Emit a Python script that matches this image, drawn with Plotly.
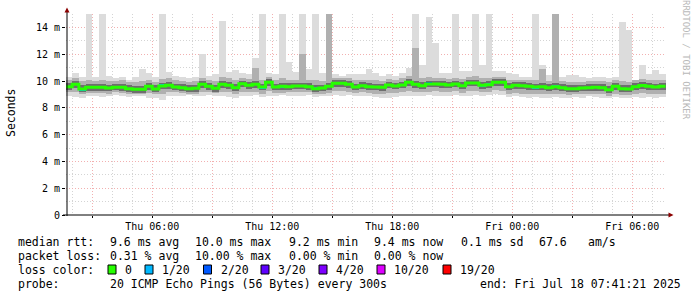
import plotly.graph_objects as go
import pandas as pd

# ---------------- data (20-minute steps, values in ms) ----------------
step_start = pd.date_range("2025-07-17 01:40:00", periods=90, freq="20min")

median_ms = [9.58, 9.75, 9.40, 9.53, 9.53, 9.53, 9.48, 9.53, 9.53, 9.43,
             9.38, 9.38, 9.60, 9.40, 9.63, 9.68, 9.55, 9.50, 9.43, 9.45,
             9.75, 9.60, 9.45, 9.75, 9.68, 9.50, 9.80, 9.68, 9.75, 9.55,
             9.90, 9.55, 9.60, 9.58, 9.63, 9.63, 9.58, 9.43, 9.48, 9.60,
             9.83, 9.83, 9.75, 9.55, 9.65, 9.58, 9.55, 9.53, 9.70, 9.63,
             9.70, 9.90, 9.75, 9.65, 9.78, 9.78, 9.75, 9.70, 9.78, 9.65,
             9.85, 9.85, 9.68, 9.72, 9.90, 9.90, 9.58, 9.68, 9.65, 9.60,
             9.55, 9.58, 9.50, 9.58, 9.50, 9.42, 9.43, 9.47, 9.50, 9.53,
             9.50, 9.35, 9.60, 9.43, 9.40, 9.58, 9.66, 9.60, 9.55, 9.60]

loss_count = [0, 0, 1, 0, 0, 0, 0, 0, 0, 0,
              0, 0, 0, 0, 1, 0, 0, 0, 0, 0,
              0, 0, 0, 0, 0, 0, 0, 0, 0, 1,
              0, 0, 1, 0, 0, 0, 0, 1, 0, 0,
              0, 0, 0, 0, 0, 0, 0, 0, 0, 0,
              0, 0, 0, 0, 2, 0, 0, 0, 0, 0,
              0, 1, 1, 1, 0, 0, 0, 0, 0, 0,
              1, 0, 0, 1, 0, 0, 0, 0, 0, 0,
              0, 0, 0, 0, 0, 0, 0, 0, 0, 0]

ping_max = [10.30, 10.57, 10.30, 15.0, 10.30, 15.0, 10.40, 10.20, 10.30, 10.10,
            10.30, 10.87, 10.57, 10.30, 15.0, 10.70, 10.40, 10.30, 10.20, 10.30,
            12.00, 10.40, 10.50, 14.5, 10.70, 10.80, 10.60, 10.50, 11.70, 15.0,
            10.60, 10.50, 15.0, 11.40, 10.70, 15.0, 10.90, 15.0, 10.60, 15.0,
            10.50, 10.40, 10.50, 10.55, 10.55, 10.90, 10.60, 10.40, 10.50, 10.40,
            10.60, 11.00, 15.0, 11.20, 14.8, 12.80, 10.60, 10.60, 15.0, 10.75,
            10.75, 15.0, 11.20, 15.0, 10.75, 10.75, 10.60, 10.50, 10.30, 10.30,
            15.0, 11.20, 10.45, 15.0, 10.30, 10.45, 10.45, 10.30, 10.20, 10.30,
            10.30, 10.20, 10.30, 14.4, 13.80, 10.10, 11.20, 10.50, 10.80, 10.50]

ping_min = [8.85, 8.80, 8.75, 8.85, 8.90, 8.80, 8.85, 8.95, 8.90, 8.80,
            8.90, 8.85, 8.70, 8.75, 8.60, 8.85, 8.90, 8.90, 8.95, 8.85,
            8.90, 8.95, 8.90, 8.85, 8.80, 8.75, 8.85, 8.90, 8.95, 8.80,
            8.90, 8.85, 8.95, 8.90, 8.85, 8.90, 8.95, 8.80, 8.85, 8.90,
            8.95, 8.90, 8.95, 8.90, 8.85, 8.90, 8.80, 8.75, 8.75, 8.80,
            8.85, 8.90, 8.85, 8.90, 8.95, 8.90, 8.85, 8.90, 8.95, 8.85,
            8.90, 8.95, 8.90, 8.95, 9.00, 8.95, 8.80, 8.85, 8.80, 8.75,
            8.80, 8.70, 8.75, 8.80, 8.70, 8.75, 8.80, 8.75, 8.85, 8.80,
            8.75, 8.70, 8.80, 8.75, 8.70, 8.80, 8.75, 8.80, 8.70, 8.80]

mid_hi = [10.05, 10.20, 10.00, 10.10, 10.00, 10.10, 10.00, 10.00, 10.05, 9.95,
          9.95, 10.00, 10.10, 9.95, 10.15, 10.20, 10.05, 10.00, 9.95, 10.00,
          10.25, 10.10, 10.00, 10.30, 10.20, 10.10, 10.25, 10.15, 11.00, 10.10,
          10.30, 10.05, 10.20, 10.10, 10.10, 12.00, 10.10, 10.05, 10.00, 15.0,
          10.25, 10.20, 10.20, 10.05, 10.10, 10.10, 10.05, 10.00, 10.15, 10.10,
          10.20, 10.35, 12.50, 10.20, 10.30, 10.25, 10.20, 10.15, 10.25, 10.15,
          10.30, 10.35, 10.20, 10.25, 10.30, 10.30, 10.05, 10.10, 10.10, 10.05,
          10.10, 10.90, 10.00, 15.0, 10.00, 9.95, 9.95, 9.95, 10.00, 10.00,
          10.00, 9.90, 10.05, 10.00, 9.95, 10.05, 10.15, 10.05, 10.05, 10.10]

mid_lo = [9.15, 9.20, 9.00, 9.10, 9.10, 9.10, 9.05, 9.15, 9.10, 9.05,
          9.00, 9.00, 9.10, 9.00, 9.05, 9.15, 9.15, 9.10, 9.05, 9.05,
          9.20, 9.15, 9.10, 9.20, 9.15, 9.05, 9.20, 9.15, 9.20, 9.05,
          9.25, 9.10, 9.10, 9.15, 9.15, 9.15, 9.15, 9.05, 9.05, 9.10,
          9.25, 9.25, 9.20, 9.10, 9.15, 9.10, 9.05, 9.00, 9.10, 9.10,
          9.15, 9.25, 9.20, 9.15, 9.20, 9.25, 9.20, 9.15, 9.25, 9.10,
          9.25, 9.25, 9.15, 9.20, 9.30, 9.25, 9.05, 9.10, 9.05, 9.05,
          9.00, 9.00, 9.00, 9.05, 9.00, 8.95, 9.00, 9.00, 9.05, 9.05,
          9.00, 8.90, 9.05, 8.95, 8.95, 9.05, 9.10, 9.05, 9.00, 9.05]

dark_hi = [9.82, 10.00, 9.68, 9.80, 9.78, 9.80, 9.72, 9.78, 9.80, 9.68,
           9.65, 9.65, 9.85, 9.68, 9.88, 9.92, 9.80, 9.75, 9.70, 9.72,
           9.98, 9.85, 9.72, 10.00, 9.92, 9.78, 10.02, 9.92, 10.00, 9.80,
           10.12, 9.80, 9.85, 9.82, 9.88, 9.88, 9.82, 9.70, 9.72, 9.88,
           10.05, 10.05, 9.98, 9.80, 9.90, 9.82, 9.80, 9.78, 9.95, 9.88,
           9.95, 10.12, 10.00, 9.90, 10.02, 10.02, 10.00, 9.95, 10.02, 9.90,
           10.08, 10.10, 9.92, 9.98, 10.12, 10.12, 9.82, 9.92, 9.90, 9.85,
           9.80, 9.82, 9.75, 9.85, 9.75, 9.68, 9.70, 9.72, 9.75, 9.78,
           9.75, 9.62, 9.85, 9.70, 9.68, 9.82, 9.90, 9.85, 9.80, 9.85]

dark_lo = [9.35, 9.50, 9.15, 9.28, 9.28, 9.28, 9.22, 9.30, 9.28, 9.18,
           9.12, 9.12, 9.35, 9.15, 9.38, 9.42, 9.30, 9.25, 9.18, 9.20,
           9.50, 9.35, 9.20, 9.50, 9.42, 9.25, 9.55, 9.42, 9.50, 9.30,
           9.65, 9.30, 9.35, 9.32, 9.38, 9.38, 9.32, 9.18, 9.22, 9.35,
           9.58, 9.58, 9.50, 9.30, 9.40, 9.32, 9.30, 9.28, 9.45, 9.38,
           9.45, 9.65, 9.50, 9.40, 9.52, 9.52, 9.50, 9.45, 9.52, 9.40,
           9.60, 9.60, 9.42, 9.48, 9.65, 9.65, 9.32, 9.42, 9.40, 9.35,
           9.30, 9.32, 9.25, 9.32, 9.25, 9.18, 9.18, 9.22, 9.25, 9.28,
           9.25, 9.10, 9.35, 9.18, 9.15, 9.32, 9.40, 9.35, 9.30, 9.35]

loss_levels = [0, 1, 2, 3, 4, 10, 19]
loss_colors = ["#26ff00", "#00b8ff", "#0059ff", "#5e00ff", "#7e00ff", "#dd00ff", "#ff0000"]
loss_labels = ["0", "1/20", "2/20", "3/20", "4/20", "10/20", "19/20"]

y_tickvals = [0, 2, 4, 6, 8, 10, 12, 14]
y_ticktext = ["0", "2 m", "4 m", "6 m", "8 m", "10 m", "12 m", "14 m"]

x_tickvals = pd.date_range("2025-07-17 03:00", "2025-07-18 06:00", freq="3h")
x_ticktext = ["", "Thu 06:00", "", "Thu 12:00", "", "Thu 18:00", "", "Fri 00:00", "", "Fri 06:00"]

x_start = pd.Timestamp("2025-07-17 01:41:21")
x_end = pd.Timestamp("2025-07-18 07:41:21")

legend_rows = [
    [("median rtt:", 16), ("9.6 ms avg", 107.5), ("10.0 ms max", 193), ("9.2 ms min", 286.5),
     ("9.4 ms now", 372), ("0.1 ms sd", 458.5), ("67.6", 537), ("am/s", 586)],
    [("packet loss:", 16), ("0.31 % avg", 107.5), ("10.00 % max", 193), ("0.00 % min", 286.5),
     ("0.00 % now", 372)],
    [("loss color:", 16)],
    [("probe:", 16), ("20 ICMP Echo Pings (56 Bytes) every 300s", 107.5),
     ("end: Fri Jul 18 07:41:21 2025", 478)],
]
legend_row_y = [241.5, 255.5, 269.5, 283.5]
box_x = [108, 145, 203.5, 261, 319, 377, 443]
box_label_x = [123, 160, 218.5, 276, 334, 392, 458]

# ---------------- layout geometry ----------------
W, H = 697, 297
ML, MR, MT, MB = 66, 31, 14, 82
PW, PH = W - ML - MR, H - MT - MB


def px(x):
    return (x - ML) / PW


def py(y):
    return (H - MB - y) / PH


MONO = "DejaVu Sans Mono"
fig = go.Figure()

centers = step_start + pd.Timedelta(minutes=10)
BW = 20 * 60 * 1000


def band(lo, hi, color):
    fig.add_trace(go.Bar(
        x=centers, y=[h - l for l, h in zip(lo, hi)], base=lo, width=BW,
        marker=dict(color=color, line=dict(width=0)),
        hoverinfo="skip", showlegend=False))


band(ping_min, ping_max, "#dcdcdc")
band(mid_lo, mid_hi, "#b0b0b0")
band(dark_lo, dark_hi, "#6e6e6e")

# median line (green, stepped)
edges = list(step_start) + [step_start[-1] + pd.Timedelta(minutes=20)]
fig.add_trace(go.Scatter(
    x=edges, y=median_ms + [median_ms[-1]], mode="lines",
    line=dict(shape="hv", color=loss_colors[0], width=3),
    hoverinfo="skip", showlegend=False))

# loss-coloured segments
for lvl, col in zip(loss_levels[1:], loss_colors[1:]):
    idx = [i for i, c in enumerate(loss_count) if c == lvl]
    if not idx:
        continue
    fig.add_trace(go.Bar(
        x=[centers[i] for i in idx], y=[0.22] * len(idx),
        base=[median_ms[i] - 0.11 for i in idx], width=BW,
        marker=dict(color=col, line=dict(width=0)),
        hoverinfo="skip", showlegend=False))

shapes = []
annotations = []

# axes lines and arrows
shapes.append(dict(type="line", xref="paper", yref="paper", x0=px(67), x1=px(67),
                   y0=py(216), y1=py(11), line=dict(color="#000000", width=1)))
shapes.append(dict(type="line", xref="paper", yref="paper", x0=px(63), x1=px(670),
                   y0=py(215), y1=py(215), line=dict(color="#000000", width=1)))
shapes.append(dict(type="path", xref="paper", yref="paper",
                   path=f"M {px(64.5)} {py(12.5)} L {px(69.5)} {py(12.5)} L {px(67)} {py(7.5)} Z",
                   fillcolor="#8b0000", line=dict(width=0)))
shapes.append(dict(type="path", xref="paper", yref="paper",
                   path=f"M {px(668.5)} {py(212.5)} L {px(668.5)} {py(217.5)} L {px(673.5)} {py(215)} Z",
                   fillcolor="#8b0000", line=dict(width=0)))

# legend text
for row, yy in zip(legend_rows, legend_row_y):
    for text, xx in row:
        annotations.append(dict(text=text, x=px(xx), y=py(yy), xref="paper", yref="paper",
                                xanchor="left", yanchor="middle", showarrow=False,
                                font=dict(family=MONO, size=11.5, color="#000000")))

for bx, lx, col, lab in zip(box_x, box_label_x, loss_colors, loss_labels):
    yy = legend_row_y[2]
    shapes.append(dict(type="rect", xref="paper", yref="paper",
                       x0=px(bx), x1=px(bx + 8), y0=py(yy + 4.5), y1=py(yy - 4.5),
                       fillcolor=col, line=dict(color="#000000", width=1)))
    annotations.append(dict(text=lab, x=px(lx), y=py(yy), xref="paper", yref="paper",
                            xanchor="left", yanchor="middle", showarrow=False,
                            font=dict(family=MONO, size=11.5, color="#000000")))

annotations.append(dict(text="Seconds", x=px(11), y=py(113), xref="paper", yref="paper",
                        textangle=-90, showarrow=False, xanchor="center", yanchor="middle",
                        font=dict(family=MONO, size=11.5, color="#000000")))
annotations.append(dict(text="RRDTOOL / TOBI OETIKER", x=px(686), y=py(60), xref="paper",
                        yref="paper", textangle=90, showarrow=False, xanchor="center",
                        yanchor="middle", font=dict(family=MONO, size=9, color="#b8b8b8")))

fig.update_layout(
    width=W, height=H, margin=dict(l=ML, r=MR, t=MT, b=MB, pad=0),
    paper_bgcolor="#ffffff", plot_bgcolor="#ffffff",
    barmode="overlay", bargap=0, showlegend=False,
    shapes=shapes, annotations=annotations,
    xaxis=dict(
        type="date", range=[x_start, x_end], tickmode="array",
        tickvals=list(x_tickvals), ticktext=x_ticktext,
        showgrid=True, gridcolor="#f2b0b0", griddash="1px,2px", gridwidth=1,
        ticks="outside", ticklen=2, tickcolor="#000000",
        tickfont=dict(family=MONO, size=10, color="#000000"),
        showline=False, zeroline=False, fixedrange=True,
        minor=dict(tickmode="linear", tick0="2025-07-17 00:00:00", dtick=3600000,
                   showgrid=True, gridcolor="#d4d4d4", griddash="1px,2px", ticks=""),
    ),
    yaxis=dict(
        range=[0, 15], tickmode="array", tickvals=y_tickvals, ticktext=y_ticktext,
        showgrid=True, gridcolor="#f2b0b0", griddash="1px,2px", gridwidth=1,
        ticks="outside", ticklen=3, tickcolor="#000000",
        tickfont=dict(family=MONO, size=10, color="#000000"),
        showline=False, zeroline=False, fixedrange=True,
        minor=dict(tickmode="linear", tick0=0, dtick=1,
                   showgrid=True, gridcolor="#d4d4d4", griddash="1px,2px", ticks=""),
    ),
)

fig.write_html("out.html")
